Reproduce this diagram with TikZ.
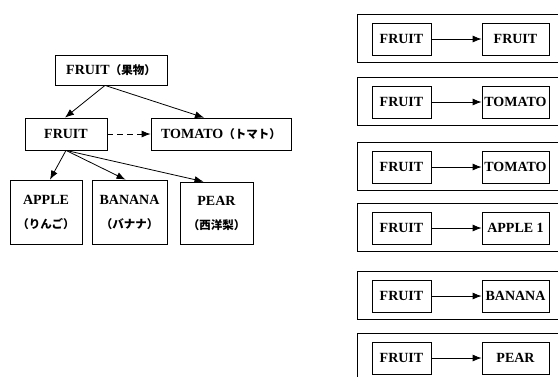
\documentclass[tikz,border=0pt]{standalone}
\usepackage{fontspec}
\setmainfont{Liberation Serif}
\newfontfamily\jpfont{Noto Sans CJK JP}
\newcommand{\jp}[1]{{\jpfont\fontsize{11.5}{13}\selectfont #1}}
\usetikzlibrary{arrows.meta}

\begin{document}
\begin{tikzpicture}[x=1pt, y=-1pt, line width=0.8pt, >={Latex[length=9pt,width=7pt]},
  box/.style={draw, inner sep=0pt, font=\fontsize{14}{16}\bfseries\selectfont, align=center},
  frame/.style={draw, line width=1pt}]
  \useasboundingbox[fill=white] (0,0) rectangle (558,376);
  \clip (0,0) rectangle (558,376);

  % class hierarchy
  \node[box, minimum width=112pt, minimum height=30pt] (top) at (111,70) {FRUIT\jp{（果物）}};
  \node[box, minimum width=82pt, minimum height=32pt] (fruit) at (66,134) {FRUIT};
  \node[box, minimum width=140pt, minimum height=32pt] (tomato) at (221,134) {TOMATO\jp{（トマト）}};
  \node[box, minimum width=72pt, minimum height=64pt] (apple) at (46,212) {APPLE\\[8pt]\jp{（りんご）}};
  \node[box, minimum width=75pt, minimum height=64pt] (banana) at (129.5,212) {BANANA\\[8pt]\jp{（バナナ）}};
  \node[box, minimum width=73pt, minimum height=62pt] (pear) at (216.5,213) {PEAR\\[8pt]\jp{（西洋梨）}};

  \draw[->] ([xshift=-6pt]top.south) -- ([xshift=-1pt]fruit.north);
  \draw[->] ([xshift=-6pt]top.south) -- ([xshift=-17pt]tomato.north);
  \draw[->, dashed, dash pattern=on 6pt off 4pt] (fruit) -- (tomato);
  \draw[->] (fruit.south) -- ([xshift=4pt]apple.north);
  \draw[->] (fruit.south) -- ([xshift=-4pt]banana.north);
  \draw[->] (fruit.south) -- ([xshift=-13pt]pear.north);

  % instances
  \foreach \y/\lbl [count=\i] in {39/FRUIT, 102/TOMATO, 167/TOMATO, 228/APPLE 1, 296/BANANA, 358/PEAR} {
    \draw[frame] (357,\y-25) rectangle (566,\y+23);
    \node[box, minimum width=59pt, minimum height=32pt] (src\i) at (401.5,\y) {FRUIT};
    \node[box, minimum width=67pt, minimum height=32pt] (dst\i) at (515.5,\y) {\lbl};
    \draw[->] (src\i) -- (dst\i);
  }
\end{tikzpicture}
\end{document}
